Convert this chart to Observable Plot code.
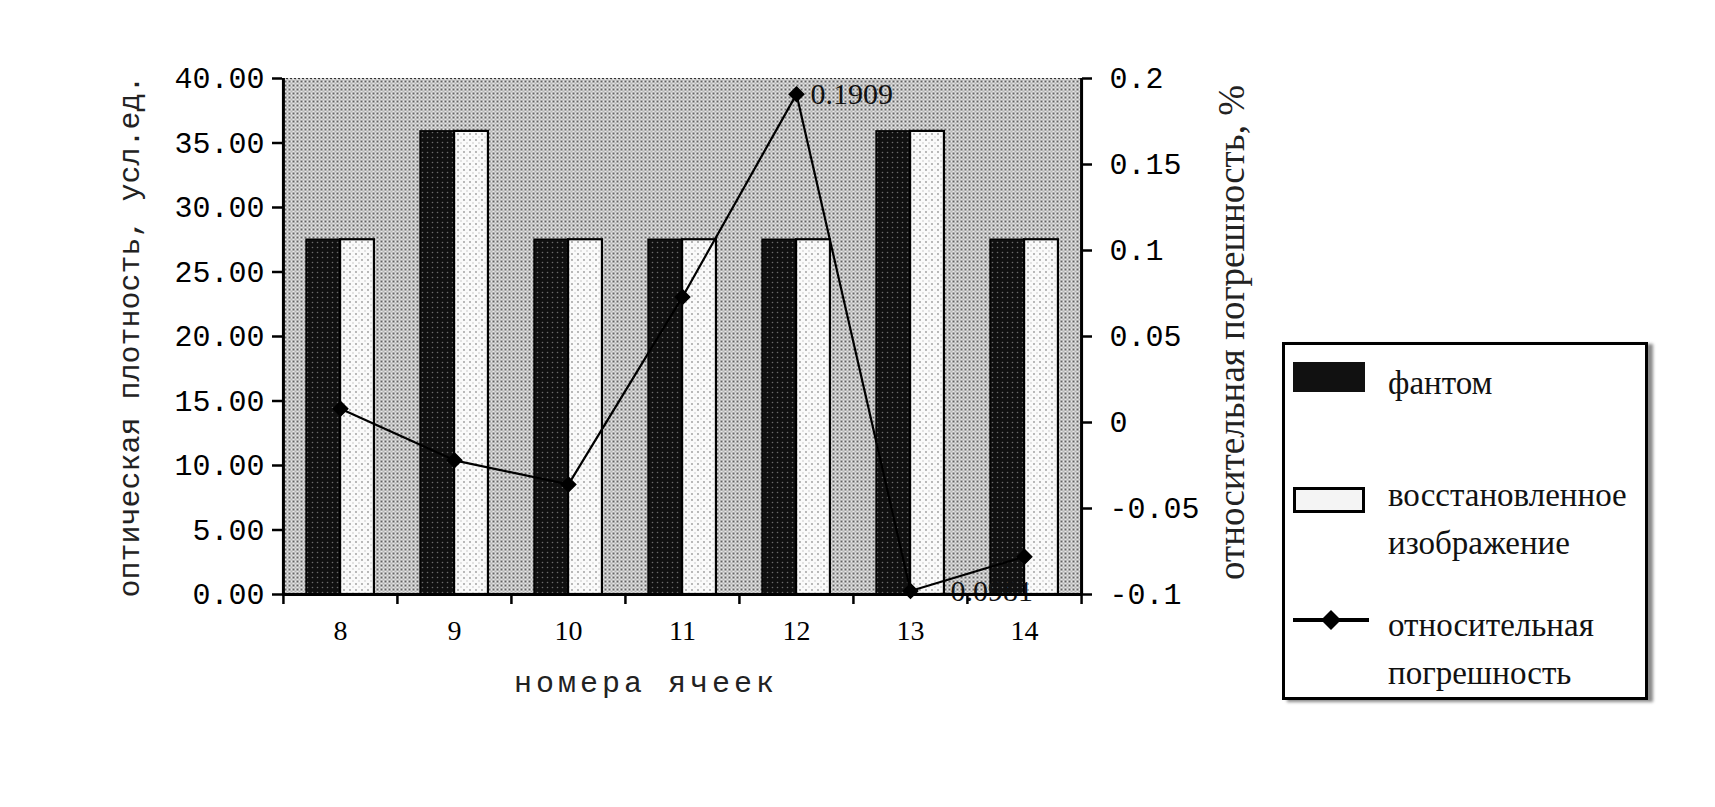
<!DOCTYPE html>
<html>
<head>
<meta charset="utf-8">
<script src="https://cdn.jsdelivr.net/npm/d3@7"></script>
<script src="https://cdn.jsdelivr.net/npm/@observablehq/plot@0.6"></script>
<style>
  html, body { margin: 0; padding: 0; background: #fff; }
  #wrap { position: relative; width: 1715px; height: 807px; overflow: hidden; }
  #chart { position: absolute; left: 0; top: 0; }
  #legend {
    position: absolute; left: 1282px; top: 342px; width: 366px; height: 358px;
    box-sizing: border-box; border: 3px solid #000; background: #fff;
    box-shadow: 5px 2px 3px #8a8a8a;
    font-family: "Liberation Serif", serif; font-size: 33px; color: #111;
  }
  .lg { position: absolute; line-height: 1; white-space: nowrap; }
</style>
</head>
<body>
<div id="wrap">
  <div id="chart"></div>
  <div id="legend"></div>
</div>
<script>
// ---- data ----
const categories = ["8", "9", "10", "11", "12", "13", "14"];
const phantom = [27.5, 35.9, 27.5, 27.5, 27.5, 35.9, 27.5];
const restored = [27.5, 35.9, 27.5, 27.5, 27.5, 35.9, 27.5];
const relError = [0.008, -0.022, -0.036, 0.073, 0.1909, -0.098, -0.078];
const errorLabels = ["", "", "", "", "0.1909", "-0.0981", ""];
const leftTicks = [0, 5, 10, 15, 20, 25, 30, 35, 40];
const rightTicks = [-0.1, -0.05, 0, 0.05, 0.1, 0.15, 0.2];
const rightTickLabels = ["-0.1", "-0.05", "0", "0.05", "0.1", "0.15", "0.2"];
const seriesNames = ["фантом", "восстановленное изображение", "относительная погрешность"];
const xTitle = "номера ячеек";
const yLeftTitle = "оптическая плотность, усл.ед.";
const yRightTitle = "относительная погрешность, %";

// ---- build ----
const leftMax = leftTicks[leftTicks.length - 1];
const rMin = rightTicks[0], rMax = rightTicks[rightTicks.length - 1];
const toLeft = e => (e - rMin) / (rMax - rMin) * leftMax;

const barsP = categories.map((c, i) => ({c, v: phantom[i]}));
const barsR = categories.map((c, i) => ({c, v: restored[i]}));
const errData = categories.map((c, i) => ({c, e: relError[i], label: errorLabels[i]}));

const W = 1270, H = 740, mL = 282, mR = 189, mT = 78, mB = 146;
const half = (W - mL - mR) / categories.length / 2;
const barW = 34;

const labelStyle = {x: "c", y: d => toLeft(d.e), text: "label", textAnchor: "start",
  fontSize: 30, fontFamily: "Liberation Serif", fill: "#111"};

const chart = Plot.plot({
  width: W, height: H,
  marginLeft: mL, marginRight: mR, marginTop: mT, marginBottom: mB,
  style: {background: "transparent", color: "#000", fontFamily: "Liberation Serif"},
  x: {domain: categories, padding: 0, axis: null},
  y: {domain: [0, leftMax], axis: null},
  marks: [
    Plot.frame({fill: "url(#bgdots)", stroke: null}),
    Plot.ruleY([leftMax], {stroke: "#333", strokeWidth: 1.2, strokeDasharray: "2,2"}),
    Plot.barY(barsP, {x: "c", y: "v", fill: "url(#darkdots)", stroke: "#000", strokeWidth: 1.5,
      insetLeft: half - barW, insetRight: half}),
    Plot.barY(barsR, {x: "c", y: "v", fill: "url(#lightdots)", stroke: "#000", strokeWidth: 2.2,
      insetLeft: half, insetRight: half - barW}),
    Plot.line(errData, {x: "c", y: d => toLeft(d.e), stroke: "#000", strokeWidth: 2.2}),
    Plot.dot(errData, {x: "c", y: d => toLeft(d.e), symbol: "diamond2", r: 6.5, fill: "#000", stroke: "#000"}),
    Plot.text(errData.filter(d => d.label && d.e >= 0), {...labelStyle, dx: 14}),
    Plot.text(errData.filter(d => d.label && d.e < 0), {...labelStyle, dx: 30}),
    // frame lines
    Plot.ruleX([categories[0]], {dx: -half, stroke: "#000", strokeWidth: 3}),
    Plot.ruleX([categories[categories.length - 1]], {dx: half, stroke: "#000", strokeWidth: 3}),
    Plot.ruleY([0], {stroke: "#000", strokeWidth: 3}),
    // left axis
    Plot.axisY(leftTicks, {anchor: "left", tickSize: 10, tickPadding: 8, strokeWidth: 2.5,
      tickFormat: d => d.toFixed(2), fontSize: 30, fontFamily: "Liberation Mono", label: null}),
    // right axis
    Plot.axisY(rightTicks.map(toLeft), {anchor: "right", tickSize: 10, tickPadding: 18, strokeWidth: 2.5,
      tickFormat: d => rightTickLabels[rightTicks.findIndex(t => Math.abs(toLeft(t) - d) < 1e-6)],
      fontSize: 30, fontFamily: "Liberation Mono", label: null}),
    // x axis: labels at centers, ticks at boundaries
    Plot.axisX({anchor: "bottom", tickSize: 0, tickPadding: 26, fontSize: 28,
      fontFamily: "Liberation Serif", label: null}),
    Plot.axisX({anchor: "bottom", tickSize: 10, strokeWidth: 2.5, dx: -half, tickFormat: () => "", label: null}),
    Plot.axisX([categories[categories.length - 1]], {anchor: "bottom", tickSize: 10, strokeWidth: 2.5, dx: half, tickFormat: () => "", label: null}),
    // titles
    Plot.text([yLeftTitle], {frameAnchor: "left", textAnchor: "middle", dx: -153, rotate: -90, text: d => d,
      fontSize: 30, fontFamily: "Liberation Mono", fill: "#222"}),
    Plot.text([yRightTitle], {frameAnchor: "right", textAnchor: "middle", dx: 151, dy: -4, rotate: -90, text: d => d,
      fontSize: 37, fontFamily: "Liberation Serif", fill: "#222"}),
    Plot.text([xTitle], {frameAnchor: "bottom", dy: 97, dx: -36, text: d => d,
      fontSize: 30, fontFamily: "Liberation Mono", fill: "#222"})
  ]
});

// halftone-like patterns
d3.select(chart).insert("defs", ":first-child").html(`
  <pattern id="bgdots" width="4" height="4" patternUnits="userSpaceOnUse">
    <rect width="4" height="4" fill="#e8e8e8"/>
    <circle cx="1" cy="1" r="0.95" fill="#2a2a2a"/>
    <circle cx="3" cy="3" r="0.65" fill="#555"/>
  </pattern>
  <pattern id="darkdots" width="5" height="5" patternUnits="userSpaceOnUse">
    <rect width="5" height="5" fill="#101010"/>
    <circle cx="2.5" cy="2.5" r="0.8" fill="#6a6a6a"/>
  </pattern>
  <pattern id="lightdots" width="6" height="6" patternUnits="userSpaceOnUse">
    <rect width="6" height="6" fill="#fafafa"/>
    <circle cx="2" cy="2" r="0.9" fill="#9a9a9a"/>
    <circle cx="5" cy="5" r="0.7" fill="#b8b8b8"/>
  </pattern>`);
d3.select(chart).selectAll("text").filter(function () { return this.textContent === xTitle; })
  .attr("letter-spacing", "4px");

document.getElementById("chart").appendChild(chart);

// legend
const lg = d3.select("#legend");
lg.append("div").attr("class", "lg")
  .style("left", "8px").style("top", "17px").style("width", "72px").style("height", "30px")
  .style("background", "#111");
lg.append("div").attr("class", "lg").style("left", "103px").style("top", "22px").text(seriesNames[0]);
lg.append("div").attr("class", "lg")
  .style("left", "8px").style("top", "142px").style("width", "72px").style("height", "26px")
  .style("box-sizing", "border-box").style("border", "3px solid #000").style("background", "#f4f4f4");
const words = seriesNames[1].split(" ");
lg.append("div").attr("class", "lg").style("left", "103px").style("top", "134px").text(words[0]);
lg.append("div").attr("class", "lg").style("left", "103px").style("top", "182px").text(words[1]);
const sw = lg.append("svg").attr("class", "lg").style("left", "6px").style("top", "260px")
  .attr("width", 80).attr("height", 30);
sw.append("line").attr("x1", 2).attr("x2", 78).attr("y1", 15).attr("y2", 15)
  .attr("stroke", "#000").attr("stroke-width", 4);
sw.append("path").attr("d", "M40,5 L50,15 L40,25 L30,15 Z").attr("fill", "#000");
const w3 = seriesNames[2].split(" ");
lg.append("div").attr("class", "lg").style("left", "103px").style("top", "264px").text(w3[0]);
lg.append("div").attr("class", "lg").style("left", "103px").style("top", "312px").text(w3[1]);
</script>
</body>
</html>
